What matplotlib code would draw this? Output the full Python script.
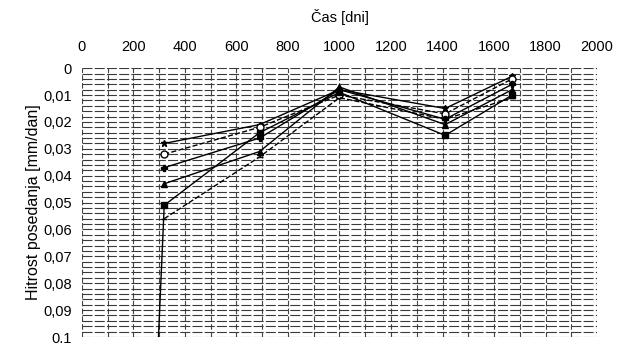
import matplotlib
matplotlib.use("Agg")
import matplotlib.pyplot as plt
import numpy as np

plt.rcParams['font.family'] = ['Liberation Sans', 'DejaVu Sans']

days = [320, 690, 1000, 1410, 1670]
s_star = [0.028, 0.021, 0.008, 0.015, 0.003]
s_circle = [0.032, 0.022, 0.010, 0.017, 0.004]
s_plus = [0.037, 0.026, 0.008, 0.019, 0.006]
s_triangle = [0.043, 0.031, 0.007, 0.021, 0.008]
s_square_days = [275, 320, 690, 1000, 1410, 1670]
s_square = [0.15, 0.051, 0.024, 0.009, 0.025, 0.010]
s_dash = [0.056, 0.033, 0.011, 0.019, 0.011]

xticks = [0, 200, 400, 600, 800, 1000, 1200, 1400, 1600, 1800, 2000]
yticks = [0, 0.01, 0.02, 0.03, 0.04, 0.05, 0.06, 0.07, 0.08, 0.09, 0.1]
ytick_labels = ["0", "0,01", "0,02", "0,03", "0,04", "0,05", "0,06", "0,07", "0,08", "0,09", "0.1"]

fig = plt.figure(figsize=(6.24, 3.46), dpi=100)
ax = fig.add_axes([0.131, 0.026, 0.826, 0.777])

ax.set_xlim(0, 2000)
ax.set_ylim(0.1, 0)

# grid
for xv in np.arange(0, 2001, 100):
    ax.axvline(xv, color='#444444', lw=0.8, ls=(0, (5, 2)), zorder=1)
for yv in np.arange(0, 0.1001, 0.002):
    ax.axhline(yv, color='#3a3a3a', lw=0.8, ls=(0, (9, 2)), zorder=1)

kw = dict(color='black', lw=1.0, ms=5, zorder=3)
ax.plot(days, s_star, marker='*', ls='-', **kw)
ax.plot(days, s_circle, marker='o', mfc='white', ls='--', **kw)
ax.plot(days, s_plus, marker='P', ls='-', **kw)
ax.plot(days, s_triangle, marker='^', ls='-', **kw)
ax.plot(s_square_days, s_square, marker='s', ls='-', **kw)
ax.plot(days, s_dash, marker='_', ls='--', **kw)

ax.xaxis.tick_top()
ax.set_xticks(xticks)
ax.set_xticklabels([str(v) for v in xticks])
ax.set_yticks(yticks)
ax.set_yticklabels(ytick_labels)
ax.tick_params(axis='x', length=0, labelsize=10.5, pad=10)
ax.tick_params(axis='y', length=0, labelsize=10.5, pad=7)
for s in ax.spines.values():
    s.set_visible(False)

ax.set_xlabel("Čas [dni]", fontsize=10.5, labelpad=13)
ax.xaxis.set_label_position('top')
ax.set_ylabel("Hitrost posedanja [mm/dan]", fontsize=11.5, labelpad=2)

fig.savefig("out.png", dpi=100)
